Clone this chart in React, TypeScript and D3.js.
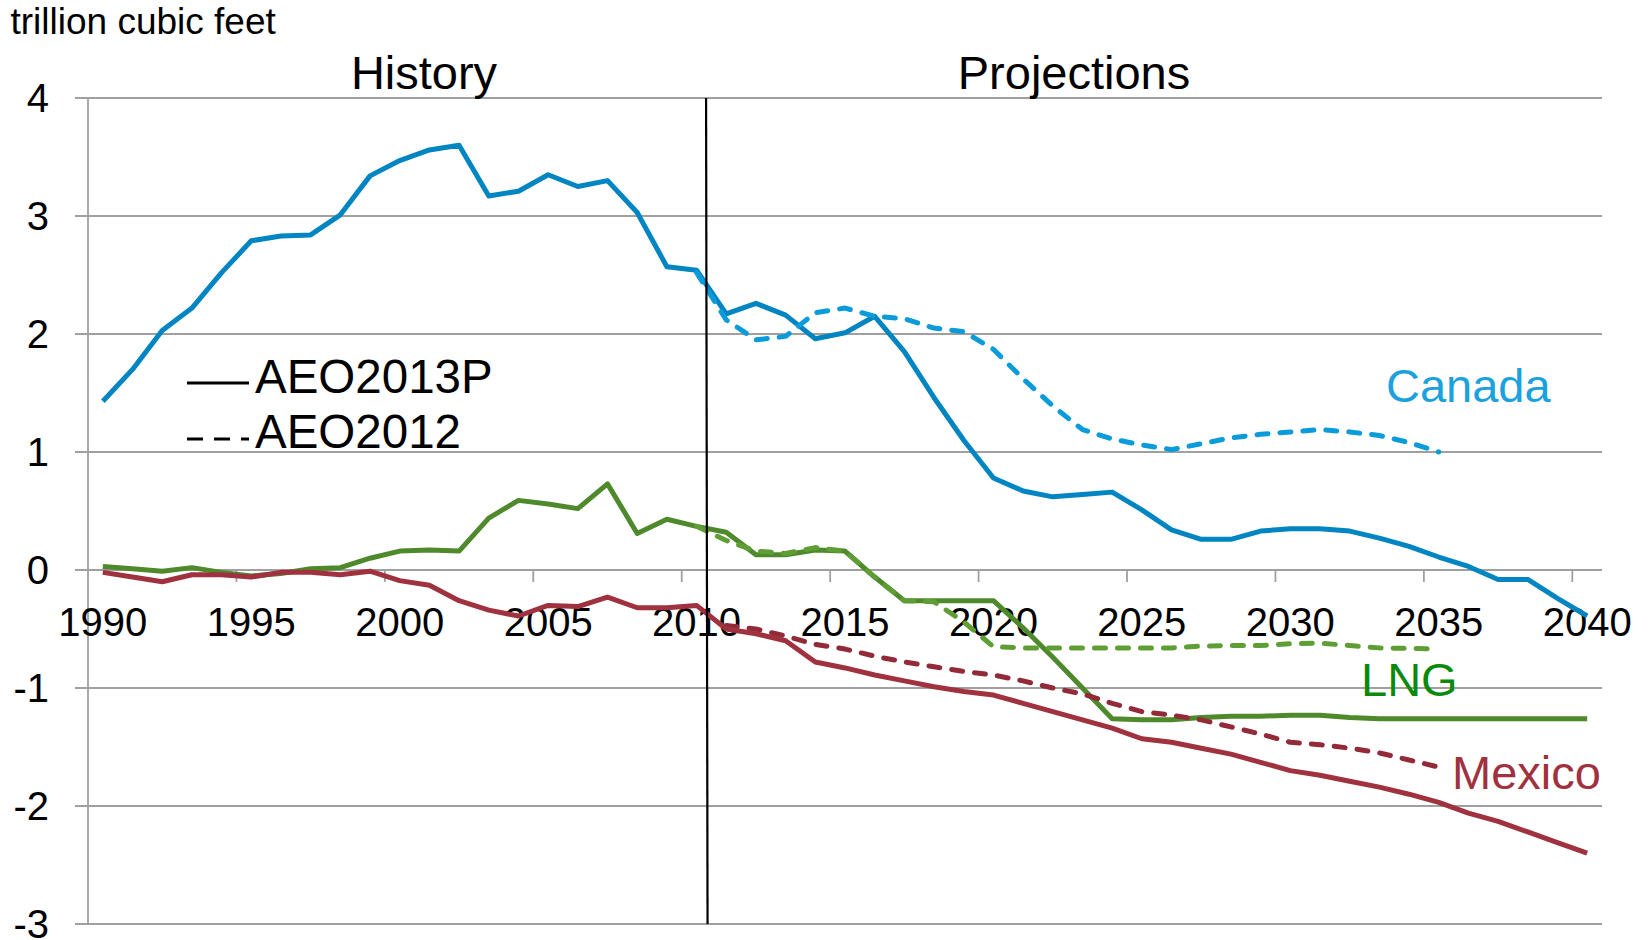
import React from "react";
import * as d3 from "d3";

const years = d3.range(1990, 2041);
const xTickYears = [1990, 1995, 2000, 2005, 2010, 2015, 2020, 2025, 2030, 2035, 2040];
const yTicks = [4, 3, 2, 1, 0, -1, -2, -3];

// AEO2013P (solid), 1990-2040
const canada2013 = [
  1.43, 1.70, 2.03, 2.22, 2.52, 2.79, 2.83, 2.84, 3.01, 3.34,
  3.47, 3.56, 3.60, 3.17, 3.21, 3.35, 3.25, 3.30, 3.03, 2.57,
  2.54, 2.17, 2.26, 2.16, 1.96, 2.01, 2.15, 1.85, 1.46, 1.10,
  0.78, 0.67, 0.62, 0.64, 0.66, 0.51, 0.34, 0.26, 0.26, 0.33,
  0.35, 0.35, 0.33, 0.27, 0.20, 0.11, 0.03, -0.08, -0.08, -0.24,
  -0.39,
];
const lng2013 = [
  0.03, 0.01, -0.01, 0.02, -0.02, -0.05, -0.03, 0.01, 0.02, 0.10,
  0.16, 0.17, 0.16, 0.44, 0.59, 0.56, 0.52, 0.73, 0.31, 0.43,
  0.37, 0.32, 0.13, 0.13, 0.17, 0.16, -0.06, -0.26, -0.26, -0.26,
  -0.26, -0.49, -0.74, -1.00, -1.26, -1.27, -1.27, -1.25, -1.24, -1.24,
  -1.23, -1.23, -1.25, -1.26, -1.26, -1.26, -1.26, -1.26, -1.26, -1.26,
  -1.26,
];
const mexico2013 = [
  -0.02, -0.06, -0.10, -0.04, -0.04, -0.06, -0.02, -0.02, -0.04, -0.01,
  -0.09, -0.13, -0.26, -0.34, -0.39, -0.30, -0.31, -0.23, -0.32, -0.32,
  -0.30, -0.50, -0.54, -0.60, -0.78, -0.83, -0.89, -0.94, -0.99, -1.03,
  -1.06, -1.13, -1.20, -1.27, -1.34, -1.43, -1.46, -1.51, -1.56, -1.63,
  -1.70, -1.74, -1.79, -1.84, -1.90, -1.97, -2.06, -2.13, -2.22, -2.31,
  -2.40,
];

// AEO2012 (dashed)
const canada2012Years = d3.range(2010, 2036);
const canada2012 = [
  2.52, 2.12, 1.95, 1.98, 2.18, 2.22, 2.15, 2.13, 2.05, 2.02,
  1.87, 1.62, 1.39, 1.19, 1.11, 1.06, 1.02, 1.07, 1.12, 1.15,
  1.17, 1.19, 1.17, 1.14, 1.08, 1.00,
];
const lng2012Years = d3.range(2010, 2036);
const lng2012 = [
  0.37, 0.25, 0.16, 0.14, 0.19, 0.16, -0.06, -0.26, -0.27, -0.44,
  -0.65, -0.66, -0.66, -0.66, -0.66, -0.66, -0.66, -0.645, -0.64, -0.64,
  -0.625, -0.62, -0.64, -0.66, -0.665, -0.67,
];
const mexico2012Years = d3.range(2011, 2036);
const mexico2012 = [
  -0.47, -0.50, -0.56, -0.63, -0.67, -0.73, -0.78, -0.82, -0.86, -0.89,
  -0.94, -1.00, -1.05, -1.13, -1.20, -1.23, -1.27, -1.33, -1.39, -1.46,
  -1.48, -1.51, -1.55, -1.61, -1.67,
];

const dividerYear = 2010.32;

const W = 1648;
const H = 940;
const FONT = "'Liberation Sans', Arial, Helvetica, sans-serif";

const x = d3.scaleLinear().domain([1989.5, 2040.5]).range([88, 1602]);
const y = d3.scaleLinear().domain([-3, 4]).range([924, 98]);

const line = d3
  .line<[number, number]>()
  .x((d) => x(d[0]))
  .y((d) => y(d[1]));

const zip = (ys: number[], vs: number[]) => ys.map((yr, i) => [yr, vs[i]] as [number, number]);

const BLUE = "#0085C3";
const BLUE_D = "#0A9BDA";
const GREEN = "#4E8A2B";
const GREEN_D = "#5E9E34";
const RED = "#A0313F";
const RED_D = "#922A38";
const GRID = "#A0A0A0";

export default function App() {
  const series = [
    { d: zip(years, lng2013), c: GREEN, dash: false },
    { d: zip(mexico2012Years, mexico2012), c: RED_D, dash: true },
    { d: zip(years, mexico2013), c: RED, dash: false },
    { d: zip(lng2012Years, lng2012), c: GREEN_D, dash: true },
    { d: zip(years, canada2013), c: BLUE, dash: false },
    { d: zip(canada2012Years, canada2012), c: BLUE_D, dash: true },
  ];
  return (
    <svg
      width={W}
      height={H}
      style={{ position: "absolute", left: 0, top: 0, background: "#fff" }}
      fontFamily={FONT}
    >
      {/* gridlines */}
      {yTicks.map((t) => (
        <line key={t} x1={75} x2={1602} y1={y(t)} y2={y(t)} stroke={GRID} strokeWidth={1.8} />
      ))}
      {/* left axis */}
      <line x1={x(1989.5)} x2={x(1989.5)} y1={y(4)} y2={y(-3)} stroke={GRID} strokeWidth={1.8} />
      {/* x tick marks */}
      {xTickYears.slice(1).map((yr) => (
        <line key={yr} x1={x(yr - 0.5)} x2={x(yr - 0.5)} y1={y(0)} y2={y(0) + 12} stroke={GRID} strokeWidth={1.8} />
      ))}
      {/* y tick labels */}
      {yTicks.map((t) => (
        <text key={t} x={49} y={y(t)} dy="0.36em" textAnchor="end" fontSize={40} fill="#000">
          {t}
        </text>
      ))}
      {/* x tick labels */}
      {xTickYears.map((yr) => (
        <text key={yr} x={x(yr)} y={636} textAnchor="middle" fontSize={40} fill="#000">
          {yr}
        </text>
      ))}
      {/* series */}
      {series.map((s, i) => (
        <path
          key={i}
          d={line(s.d) || ""}
          fill="none"
          stroke={s.c}
          strokeWidth={5}
          strokeLinejoin="round"
          strokeLinecap={s.dash ? "round" : "butt"}
          strokeDasharray={s.dash ? "11,12" : undefined}
        />
      ))}
      {/* divider */}
      <line x1={x(dividerYear)} x2={x(dividerYear + 0.05)} y1={y(4)} y2={y(-3)} stroke="#000" strokeWidth={2.2} />
      {/* titles */}
      <text x={10.5} y={34} fontSize={37} fill="#000">trillion cubic feet</text>
      <text x={424} y={89} textAnchor="middle" fontSize={47} fill="#000">History</text>
      <text x={1074} y={89} textAnchor="middle" fontSize={47} fill="#000">Projections</text>
      {/* legend */}
      <line x1={187} x2={249} y1={383} y2={383} stroke="#000" strokeWidth={3} />
      <text x={255} y={393} fontSize={47.5} fill="#000">AEO2013P</text>
      <line x1={187} x2={249} y1={439} y2={439} stroke="#000" strokeWidth={3} strokeDasharray="16,11" />
      <text x={255} y={448} fontSize={47.5} fill="#000">AEO2012</text>
      {/* series labels */}
      <text x={1386} y={402} fontSize={47} fill="#1BA1DD">Canada</text>
      <text x={1361} y={696} fontSize={47} fill="#0A8A0A">LNG</text>
      <text x={1452} y={789} fontSize={47} fill="#A0313F">Mexico</text>
    </svg>
  );
}
